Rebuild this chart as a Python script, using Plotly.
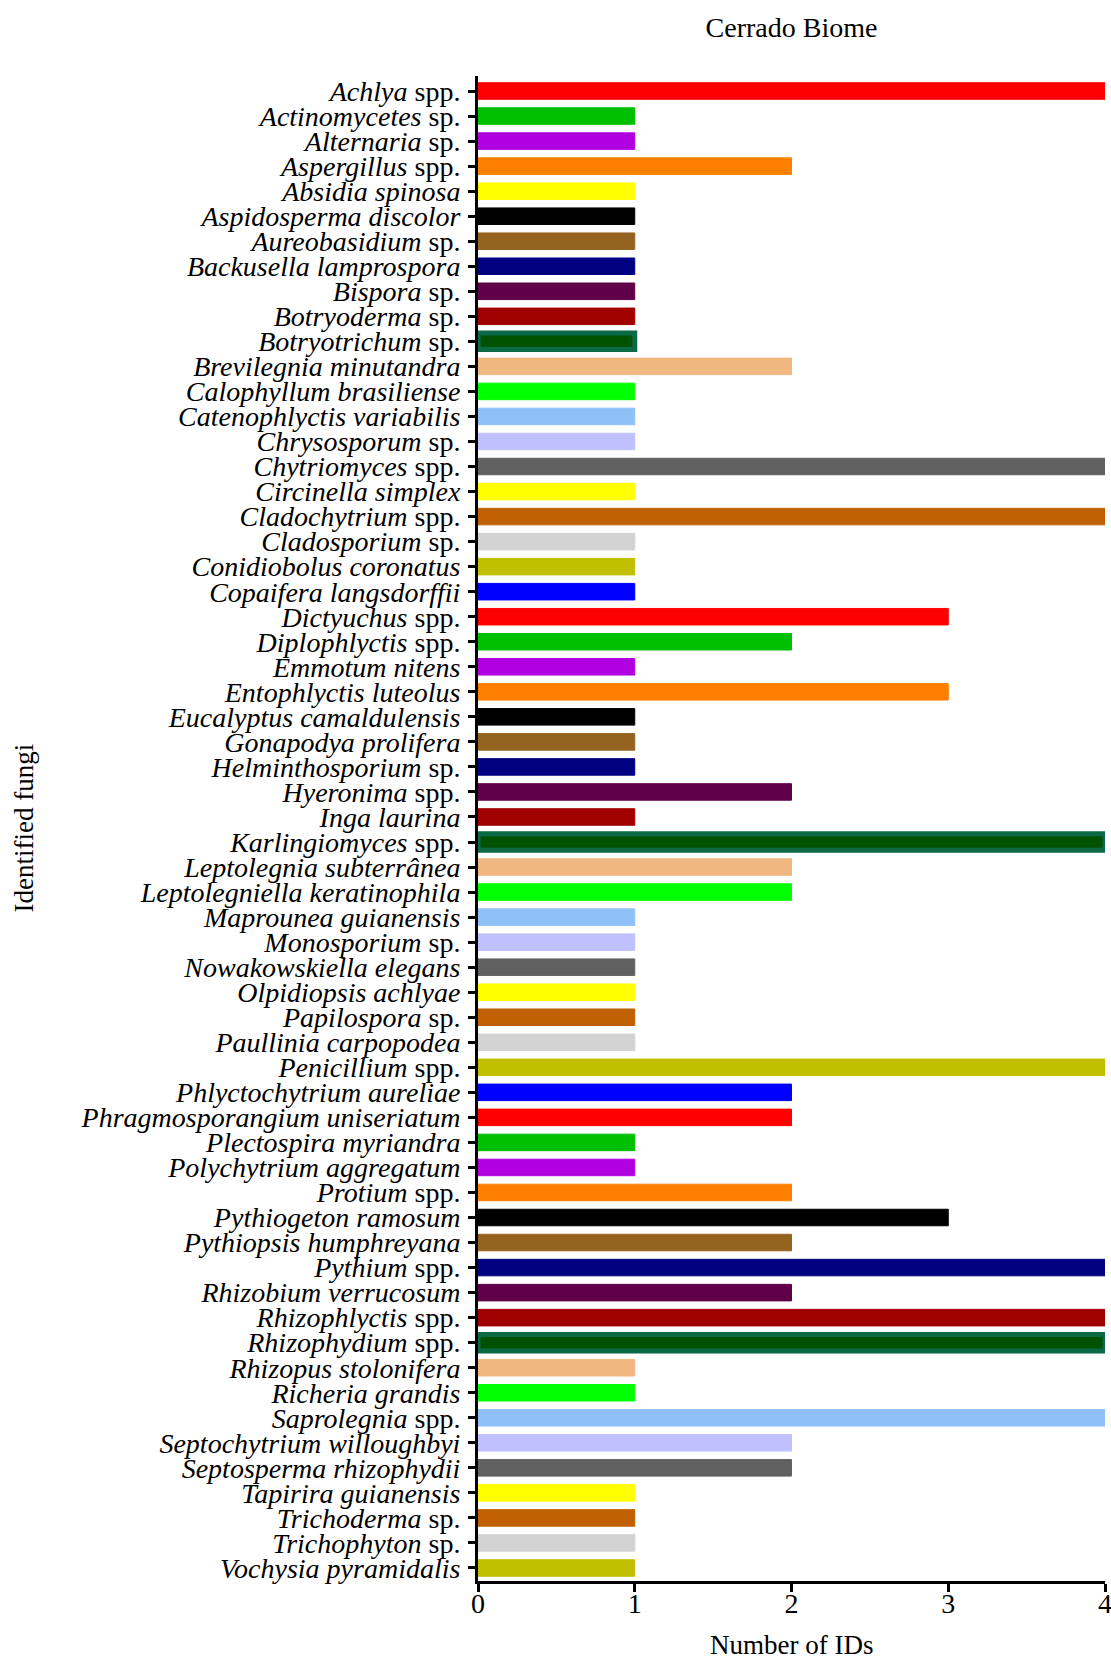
import plotly.graph_objects as go

genus = [
    "Achlya", "Actinomycetes", "Alternaria", "Aspergillus", "Absidia spinosa",
    "Aspidosperma discolor", "Aureobasidium", "Backusella lamprospora", "Bispora", "Botryoderma",
    "Botryotrichum", "Brevilegnia minutandra", "Calophyllum brasiliense", "Catenophlyctis variabilis", "Chrysosporum",
    "Chytriomyces", "Circinella simplex", "Cladochytrium", "Cladosporium", "Conidiobolus coronatus",
    "Copaifera langsdorffii", "Dictyuchus", "Diplophlyctis", "Emmotum nitens", "Entophlyctis luteolus",
    "Eucalyptus camaldulensis", "Gonapodya prolifera", "Helminthosporium", "Hyeronima", "Inga laurina",
    "Karlingiomyces", "Leptolegnia subterrânea", "Leptolegniella keratinophila", "Maprounea guianensis", "Monosporium",
    "Nowakowskiella elegans", "Olpidiopsis achlyae", "Papilospora", "Paullinia carpopodea", "Penicillium",
    "Phlyctochytrium aureliae", "Phragmosporangium uniseriatum", "Plectospira myriandra", "Polychytrium aggregatum", "Protium",
    "Pythiogeton ramosum", "Pythiopsis humphreyana", "Pythium", "Rhizobium verrucosum", "Rhizophlyctis",
    "Rhizophydium", "Rhizopus stolonifera", "Richeria grandis", "Saprolegnia", "Septochytrium willoughbyi",
    "Septosperma rhizophydii", "Tapirira guianensis", "Trichoderma", "Trichophyton", "Vochysia pyramidalis",
]
suffix = [
    "spp.", "sp.", "sp.", "spp.", "",
    "", "sp.", "", "sp.", "sp.",
    "sp.", "", "", "", "sp.",
    "spp.", "", "spp.", "sp.", "",
    "", "spp.", "spp.", "", "",
    "", "", "sp.", "spp.", "",
    "spp.", "", "", "", "sp.",
    "", "", "sp.", "", "spp.",
    "", "", "", "", "spp.",
    "", "", "spp.", "", "spp.",
    "spp.", "", "", "spp.", "",
    "", "", "sp.", "sp.", "",
]
ids = [
    4, 1, 1, 2, 1,
    1, 1, 1, 1, 1,
    1, 2, 1, 1, 1,
    4, 1, 4, 1, 1,
    1, 3, 2, 1, 3,
    1, 1, 1, 2, 1,
    4, 2, 2, 1, 1,
    1, 1, 1, 1, 4,
    2, 2, 1, 1, 2,
    3, 2, 4, 2, 4,
    4, 1, 1, 4, 2,
    2, 1, 1, 1, 1,
]
x_ticks = [0, 1, 2, 3, 4]

RED, GRN, PUR, ORG, YEL = "#FF0000", "#00C000", "#B000E0", "#FF8000", "#FFFF00"
BLK, BRN, NAV, DPU, DRD = "#000000", "#956320", "#000080", "#60004A", "#A00000"
DGR, TAN, LIM, LBL, LAV = "#005200", "#F0B880", "#00FF00", "#90C0F8", "#C0C0FF"
GRY, OBR, LGR, OLV, BLU = "#606060", "#C06000", "#D3D3D3", "#C0C000", "#0000FF"

colors = [
    RED, GRN, PUR, ORG, YEL, BLK, BRN, NAV, DPU, DRD, DGR, TAN, LIM, LBL, LAV, GRY, YEL, OBR, LGR, OLV, BLU,
    RED, GRN, PUR, ORG, BLK, BRN, NAV, DPU, DRD, DGR, TAN, LIM, LBL, LAV, GRY, YEL, OBR, LGR, OLV, BLU,
    RED, GRN, PUR, ORG, BLK, BRN, NAV, DPU, DRD, DGR, TAN, LIM, LBL, LAV, GRY, YEL, OBR, LGR, OLV,
]
line_colors = ["#0A6A45" if c == DGR else c for c in colors]
line_widths = [5 if c == DGR else 1 for c in colors]

labels = [g + (" " + s if s else "") for g, s in zip(genus, suffix)]
ticktext = ["<i>" + g + "</i>" + (" " + s if s else "") for g, s in zip(genus, suffix)]

FONT = "Liberation Serif, Times New Roman, serif"

fig = go.Figure(go.Bar(
    x=ids, y=labels, orientation="h",
    marker=dict(color=colors, line=dict(color=line_colors, width=line_widths)),
    width=0.66,
))

fig.update_layout(
    width=1111, height=1657,
    margin=dict(l=478, r=6, t=76, b=76, autoexpand=False),
    paper_bgcolor="white", plot_bgcolor="white",
    font=dict(family=FONT, color="black", size=27),
    showlegend=False,
    title=dict(text="Cerrado Biome", x=0.5, xref="paper", xanchor="center",
               y=1 - 27 / 1657, yref="container", yanchor="middle",
               font=dict(family=FONT, size=28, color="black")),
)
fig.update_xaxes(
    range=[0, 4], tickvals=x_ticks, ticktext=[str(v) for v in x_ticks],
    automargin=False,
    showgrid=False, zeroline=False,
    showline=True, linecolor="black", linewidth=3,
    ticks="outside", ticklen=8, tickwidth=3, tickcolor="black",
    ticklabeloverflow="allow", ticklabelstandoff=-13,
    tickfont=dict(family=FONT, size=28, color="black"),
)
fig.update_yaxes(
    type="category", categoryorder="array", categoryarray=labels,
    tickvals=labels, ticktext=ticktext,
    range=[59.52, -0.6],
    automargin=False,
    showgrid=False, zeroline=False,
    showline=True, linecolor="black", linewidth=3,
    ticks="outside", ticklen=7, tickwidth=3, tickcolor="black",
    ticklabelstandoff=2,
    tickfont=dict(family=FONT, size=28, color="black"),
)
fig.add_annotation(text="Number of IDs", xref="paper", yref="paper", x=0.5, y=0,
                   yshift=-64, xanchor="center", yanchor="middle", showarrow=False,
                   font=dict(family=FONT, size=27, color="black"))
fig.add_annotation(text="Identified fungi", xref="paper", yref="paper", x=0, y=0.5,
                   xshift=-455, xanchor="center", yanchor="middle", textangle=-90,
                   showarrow=False, font=dict(family=FONT, size=27, color="black"))

fig.write_html("out.html", config={"displayModeBar": False},
               post_script="document.body.style.margin='0';")
